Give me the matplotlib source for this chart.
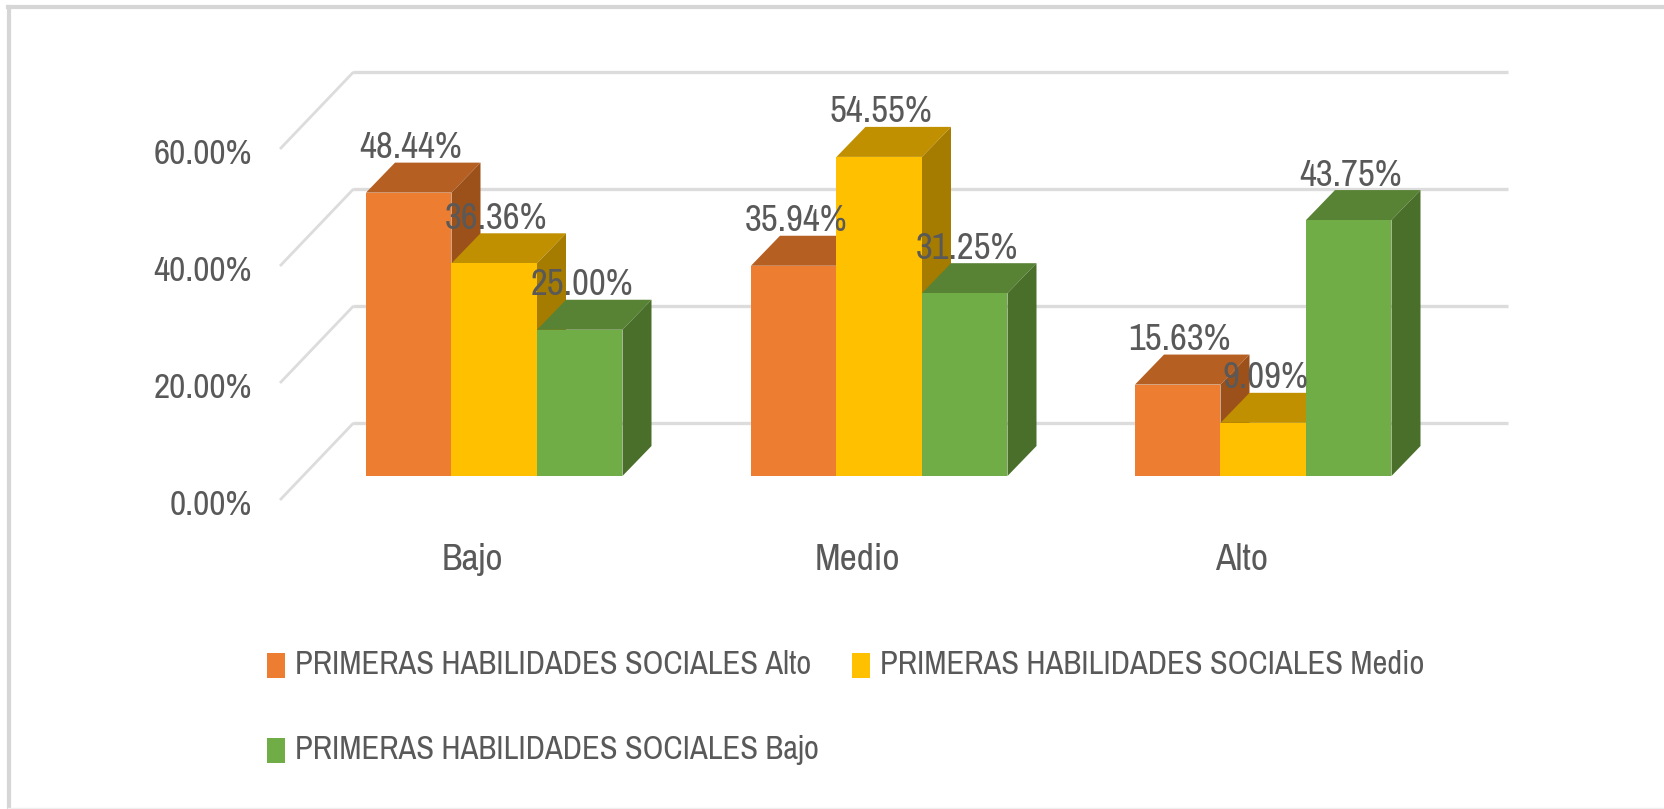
import matplotlib
matplotlib.use("Agg")
import matplotlib.pyplot as plt
from matplotlib import font_manager as fm
from matplotlib.lines import Line2D
from matplotlib.patches import Polygon, Rectangle

categories = ["Bajo", "Medio", "Alto"]
series_names = [
    "PRIMERAS HABILIDADES SOCIALES Alto",
    "PRIMERAS HABILIDADES SOCIALES Medio",
    "PRIMERAS HABILIDADES SOCIALES Bajo",
]
alto_values = [48.44, 35.94, 15.63]
medio_values = [36.36, 54.55, 9.09]
bajo_values = [25.00, 31.25, 43.75]
y_ticks = [0, 20, 40, 60]

W, H = 1665, 809
PX_PER_PCT = 5.85
ZERO_PY = 500          # pixel row of 0% on the front edge of the floor
TXT = "#595959"
GRID = "#dcdcdc"

# the original text is squeezed sideways, a narrow face gets closest to it
installed = {f.name for f in fm.fontManager.ttflist}
if "Archivo Narrow" in installed:
    FONT, LABEL_SIZE, TICK_SIZE, CAT_SIZE, LEGEND_SIZE = "Archivo Narrow", 26.5, 25.5, 27, 23.4
else:
    FONT, LABEL_SIZE, TICK_SIZE, CAT_SIZE, LEGEND_SIZE = "Lato", 21, 20.5, 21.5, 19

front_colors = ["#ED7D31", "#FFC000", "#70AD47"]
top_colors = ["#B65F22", "#C09000", "#588335"]
side_colors = ["#9C511B", "#A67C00", "#4A6F2B"]


def lift(px):
    """Pixels of upward shift expressed in percent units."""
    return px / PX_PER_PCT


def draw_bar(ax, x0, width, value, i):
    # oblique box: floor offset, then depth going up and to the right
    floor = lift(24)
    dx, dy = 29, lift(30)
    x1 = x0 + width
    y0, y1 = floor, floor + value
    ax.add_patch(Polygon([(x0, y1), (x1, y1), (x1 + dx, y1 + dy), (x0 + dx, y1 + dy)],
                         fc=top_colors[i], ec="none", zorder=3))
    ax.add_patch(Polygon([(x1, y0), (x1 + dx, y0 + dy), (x1 + dx, y1 + dy), (x1, y1)],
                         fc=side_colors[i], ec="none", zorder=3))
    ax.add_patch(Rectangle((x0, y0), width, value, fc=front_colors[i], ec="none", zorder=3))
    ax.text(x0 + width / 2 + 2, y1 + dy + lift(15), f"{value:.2f}%", fontsize=LABEL_SIZE,
            family=FONT, color=TXT, ha="center", va="center", zorder=5)


fig = plt.figure(figsize=(W / 100, H / 100), dpi=100)
ax = fig.add_axes([0, 0, 1, 1])
ax.set_xlim(0, W)
ax.set_ylim((ZERO_PY - H) / PX_PER_PCT, ZERO_PY / PX_PER_PCT)
ax.axis("off")

# 3D-look gridlines: diagonal on the side wall, flat on the back wall
wall = lift(77)
for t in y_ticks:
    ax.plot([280, 353.5], [t, t + wall], color=GRID, lw=2, zorder=1, solid_capstyle="butt")
    ax.plot([353.5, 1508], [t + wall, t + wall], color=GRID, lw=2.4, zorder=1, solid_capstyle="butt")
    ax.text(252, t + lift(-5), f"{t:.2f}%", fontsize=TICK_SIZE, family=FONT, color=TXT,
            ha="right", va="center")

bar_w = 85.5
group_x = [366, 751, 1135]
for g, cat in enumerate(categories):
    vals = [alto_values[g], medio_values[g], bajo_values[g]]
    for i, v in enumerate(vals):
        draw_bar(ax, group_x[g] + i * bar_w, bar_w, v, i)
    ax.text(group_x[g] + 1.5 * bar_w - 22, lift(ZERO_PY - 560), cat, fontsize=CAT_SIZE, family=FONT,
            color=TXT, ha="center", va="center")

# legend, laid out by hand as in the original (two rows)
legend_pos = [(267, 665), (852, 665), (267, 750)]
for i, (lx, ly) in enumerate(legend_pos):
    ax.add_patch(Rectangle((lx, lift(ZERO_PY - ly) - lift(13)), 18, lift(25), fc=front_colors[i], ec="none"))
    ax.text(lx + 28, lift(ZERO_PY - ly), series_names[i], fontsize=LEGEND_SIZE, family=FONT,
            color=TXT, ha="left", va="center")

# picture frame: top and left only, very faint at the bottom
fig.add_artist(Line2D([8 / W, 1], [1 - 7 / H, 1 - 7 / H], color="#d6d6d6", lw=3, transform=fig.transFigure))
fig.add_artist(Line2D([9 / W, 9 / W], [0, 1 - 7 / H], color="#d6d6d6", lw=3, transform=fig.transFigure))
fig.add_artist(Line2D([8 / W, 1], [1.5 / H, 1.5 / H], color="#efefef", lw=1, transform=fig.transFigure))

fig.savefig("out.png", dpi=100)
